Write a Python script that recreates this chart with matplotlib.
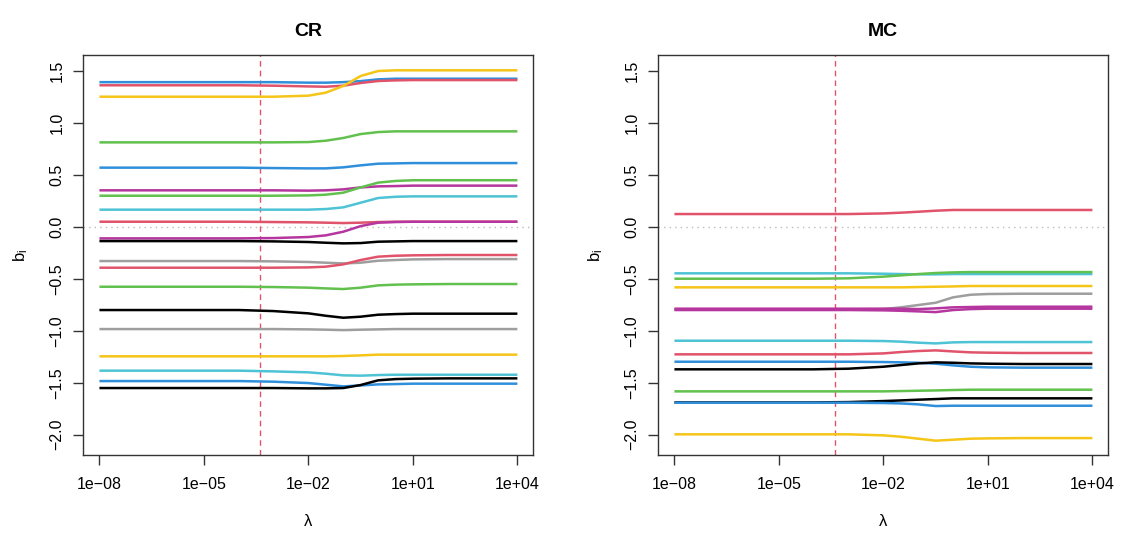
import numpy as np
import matplotlib
matplotlib.use('Agg')
import matplotlib.pyplot as plt

plt.rcParams['font.family'] = ['Liberation Sans', 'DejaVu Sans']

# knots on the lambda axis (log10)
log_lambda = [-8, -4, -3, -2, -1.5, -1, -0.5, 0, 0.5, 1, 2, 4]
lam_cut = 4.2e-4

cr_coef = [
    [1.39, 1.39, 1.39, 1.385, 1.385, 1.39, 1.40, 1.417, 1.423, 1.423, 1.423, 1.423],
    [1.36, 1.36, 1.356, 1.349, 1.346, 1.356, 1.382, 1.401, 1.407, 1.41, 1.41, 1.41],
    [1.25, 1.25, 1.25, 1.26, 1.289, 1.353, 1.449, 1.497, 1.504, 1.504, 1.504, 1.504],
    [0.811, 0.811, 0.811, 0.814, 0.827, 0.853, 0.891, 0.910, 0.917, 0.917, 0.917, 0.917],
    [0.568, 0.568, 0.564, 0.561, 0.561, 0.571, 0.590, 0.606, 0.609, 0.612, 0.612, 0.612],
    [0.35, 0.35, 0.35, 0.347, 0.35, 0.359, 0.378, 0.388, 0.391, 0.395, 0.395, 0.395],
    [0.298, 0.298, 0.298, 0.301, 0.308, 0.327, 0.378, 0.424, 0.44, 0.447, 0.447, 0.447],
    [0.164, 0.164, 0.164, 0.164, 0.170, 0.186, 0.231, 0.276, 0.288, 0.292, 0.292, 0.292],
    [0.048, 0.048, 0.045, 0.042, 0.039, 0.035, 0.039, 0.045, 0.048, 0.048, 0.048, 0.048],
    [-0.112, -0.112, -0.109, -0.099, -0.083, -0.048, 0.006, 0.039, 0.045, 0.048, 0.048, 0.048],
    [-0.138, -0.138, -0.141, -0.147, -0.154, -0.16, -0.157, -0.144, -0.141, -0.138, -0.138, -0.138],
    [-0.33, -0.33, -0.333, -0.339, -0.346, -0.353, -0.346, -0.327, -0.32, -0.314, -0.311, -0.311],
    [-0.394, -0.394, -0.394, -0.391, -0.384, -0.362, -0.32, -0.288, -0.279, -0.275, -0.272, -0.272],
    [-0.577, -0.577, -0.58, -0.586, -0.593, -0.599, -0.586, -0.564, -0.557, -0.554, -0.551, -0.551],
    [-0.801, -0.801, -0.811, -0.833, -0.856, -0.875, -0.865, -0.846, -0.84, -0.836, -0.836, -0.836],
    [-0.984, -0.984, -0.984, -0.987, -0.99, -0.994, -0.99, -0.987, -0.984, -0.984, -0.984, -0.984],
    [-1.246, -1.246, -1.246, -1.246, -1.246, -1.243, -1.237, -1.23, -1.23, -1.23, -1.23, -1.23],
    [-1.384, -1.384, -1.391, -1.4, -1.413, -1.429, -1.432, -1.426, -1.423, -1.423, -1.423, -1.423],
    [-1.484, -1.484, -1.49, -1.503, -1.519, -1.535, -1.526, -1.516, -1.513, -1.509, -1.509, -1.509],
    [-1.551, -1.551, -1.551, -1.554, -1.554, -1.551, -1.522, -1.477, -1.465, -1.461, -1.458, -1.458],
]
cr_cols = ['blue', 'red', 'yellow', 'green', 'blue', 'magenta', 'green', 'cyan', 'red', 'magenta',
           'black', 'gray', 'red', 'green', 'black', 'gray', 'yellow', 'cyan', 'blue', 'black']

mc_coef = [
    [0.122, 0.122, 0.122, 0.128, 0.135, 0.144, 0.154, 0.161, 0.161, 0.161, 0.161, 0.161],
    [-0.448, -0.448, -0.448, -0.452, -0.455, -0.458, -0.458, -0.455, -0.455, -0.455, -0.455, -0.455],
    [-0.5, -0.5, -0.496, -0.48, -0.468, -0.455, -0.445, -0.439, -0.436, -0.436, -0.436, -0.436],
    [-0.583, -0.583, -0.583, -0.583, -0.583, -0.58, -0.577, -0.574, -0.57, -0.57, -0.57, -0.57],
    [-0.795, -0.795, -0.795, -0.792, -0.775, -0.753, -0.731, -0.679, -0.654, -0.647, -0.644, -0.644],
    [-0.788, -0.788, -0.788, -0.788, -0.788, -0.792, -0.785, -0.775, -0.772, -0.769, -0.769, -0.769],
    [-0.801, -0.801, -0.801, -0.804, -0.808, -0.814, -0.821, -0.801, -0.792, -0.788, -0.788, -0.788],
    [-1.096, -1.096, -1.096, -1.099, -1.105, -1.115, -1.122, -1.112, -1.109, -1.109, -1.109, -1.109],
    [-1.227, -1.227, -1.227, -1.218, -1.205, -1.195, -1.189, -1.199, -1.208, -1.211, -1.214, -1.214],
    [-1.298, -1.298, -1.298, -1.301, -1.304, -1.308, -1.317, -1.333, -1.346, -1.352, -1.355, -1.355],
    [-1.371, -1.371, -1.365, -1.346, -1.33, -1.314, -1.304, -1.308, -1.314, -1.317, -1.32, -1.32],
    [-1.583, -1.583, -1.583, -1.583, -1.58, -1.577, -1.574, -1.57, -1.567, -1.567, -1.567, -1.567],
    [-1.689, -1.689, -1.686, -1.676, -1.67, -1.663, -1.657, -1.65, -1.65, -1.65, -1.65, -1.65],
    [-1.692, -1.692, -1.692, -1.695, -1.699, -1.708, -1.724, -1.721, -1.721, -1.721, -1.721, -1.721],
    [-1.996, -1.996, -1.996, -2.006, -2.019, -2.038, -2.057, -2.048, -2.038, -2.035, -2.032, -2.032],
]
mc_cols = ['red', 'cyan', 'green', 'yellow', 'gray', 'magenta', 'magenta', 'cyan', 'red', 'blue',
           'black', 'green', 'black', 'blue', 'yellow']

palette = {'black': '#000000', 'red': '#E0536B', 'green': '#62C14E', 'blue': '#2F8FDB',
           'cyan': '#4EC3D5', 'magenta': '#B5369E', 'yellow': '#F5C518', 'gray': '#9E9E9E'}

lam = 10.0 ** np.array(log_lambda)

fig = plt.figure(figsize=(11.27, 5.33), dpi=100)
ax1 = fig.add_axes([0.0734, 0.1463, 0.3996, 0.7505])
ax2 = fig.add_axes([0.5836, 0.1463, 0.3996, 0.7505])

for ax, coef, cols, title in [(ax1, cr_coef, cr_cols, 'CR'), (ax2, mc_coef, mc_cols, 'MC')]:
    ax.axhline(0, color='#BBBBBB', lw=1, ls=(0, (1, 3)))
    ax.axvline(lam_cut, color='#E0536B', lw=1, ls=(0, (4, 3)))
    for row, c in zip(coef, cols):
        ax.plot(lam, row, color=palette[c], lw=1.8, solid_capstyle='butt', solid_joinstyle='round')
    ax.set_xscale('log')
    ax.set_xlim(10 ** -8.48, 10 ** 4.45)
    ax.set_ylim(-2.195, 1.651)
    ax.set_xticks([1e-8, 1e-5, 1e-2, 1e1, 1e4])
    ax.set_xticklabels(['1e\u221208', '1e\u221205', '1e\u221202', '1e+01', '1e+04'])
    ax.minorticks_off()
    ax.set_yticks([-2.0, -1.5, -1.0, -0.5, 0.0, 0.5, 1.0, 1.5])
    ax.set_yticklabels(['\u22122.0', '\u22121.5', '\u22121.0', '\u22120.5', '0.0', '0.5', '1.0', '1.5'],
                       rotation=90, va='center')
    ax.tick_params(axis='both', length=7, width=1, labelsize=11.5, color='#333333', pad=6)
    ax.tick_params(axis='x', pad=9)
    for s in ax.spines.values():
        s.set_linewidth(1)
        s.set_color('#333333')
    ax.set_xlabel('\u03bb', fontsize=12, labelpad=16)
    ax.set_ylabel('$\\mathregular{b_i}$', fontsize=12, labelpad=14)
    ax.set_title(title, fontsize=14, fontweight='bold', pad=14)

fig.savefig('out.png', dpi=100)
